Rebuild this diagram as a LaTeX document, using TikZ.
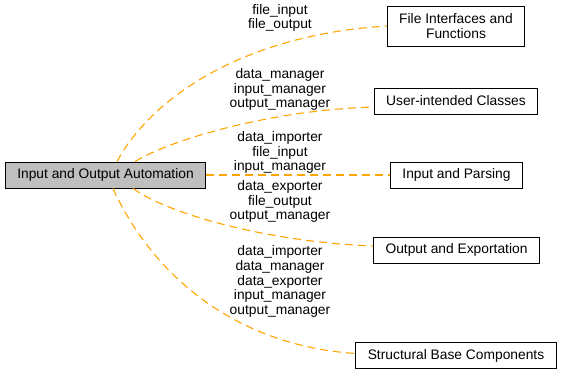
\documentclass[tikz,border=0pt]{standalone}
\usepackage{fontspec}
\setmainfont{Liberation Sans}
\usetikzlibrary{positioning}
\definecolor{edgeorange}{HTML}{FFA500}
\definecolor{groupgrey}{HTML}{BFBFBF}
\tikzset{
    grp/.style={draw=black, line width=0.9pt, fill=white, inner xsep=12pt, inner ysep=3pt, minimum height=26pt, align=center},
    curgrp/.style={grp, fill=groupgrey},
    memb/.style={draw=edgeorange, line width=1.1pt, dash pattern=on 8pt off 5pt},
    lbl/.style={align=center, inner sep=0pt}
}

\begin{document}
\begin{tikzpicture}[x=1pt, y=-1pt, font=\fontsize{13.8}{14.6}\selectfont]
    \useasboundingbox (0,0) rectangle (563,373);
    % groups
    \node[curgrp] (io) at (105.5,175) {Input and Output Automation};
    \node[grp, minimum height=40pt] (fif) at (456,26) {File Interfaces and\\Functions};
    \node[grp] (uic) at (456,101) {User-intended Classes};
    \node[grp] (iap) at (456.5,175) {Input and Parsing};
    \node[grp] (oae) at (456.5,250) {Output and Exportation};
    \node[grp] (sbc) at (456,355.5) {Structural Base Components};
    % member edges
    \draw[memb] ([xshift=11.5pt]io.north) .. controls (150,100) and (240,35) .. (fif.west);
    \draw[memb] ([xshift=29.5pt]io.north) .. controls (170,140) and (270,110) .. ([yshift=-6pt]uic.west);
    \draw[memb] (io) -- (iap);
    \draw[memb] ([xshift=27.5pt]io.south) .. controls (170,215) and (270,242) .. ([yshift=4pt]oae.west);
    \draw[memb] ([xshift=7.5pt]io.south) .. controls (150,270) and (230,345) .. ([yshift=2pt]sbc.west);
    % edge labels
    \node[lbl] (l1) at (280,18) {file\_input\\file\_output};
    \node[lbl] (l2) at (280,89.5) {data\_manager\\input\_manager\\output\_manager};
    \node[lbl] (l3) at (280,152.5) {data\_importer\\file\_input\\input\_manager};
    \node[lbl] (l4) at (280,201.5) {data\_exporter\\file\_output\\output\_manager};
    \node[lbl] (l5) at (280,281.5) {data\_importer\\data\_manager\\data\_exporter\\input\_manager\\output\_manager};
\end{tikzpicture}
\end{document}
